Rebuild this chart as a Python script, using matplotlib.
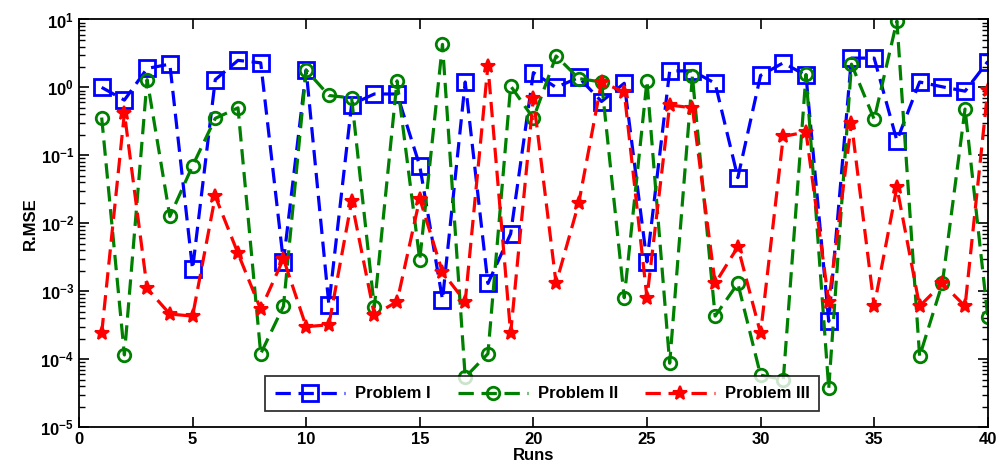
import numpy as np
import matplotlib
matplotlib.use("Agg")
import matplotlib.pyplot as plt
from matplotlib.ticker import LogLocator, NullFormatter, FixedLocator

runs = list(range(1, 41))
problem_1 = [1.0, 0.65, 1.9, 2.2, 0.0021, 1.3, 2.5, 2.3, 0.0027, 1.8,
             0.00063, 0.56, 0.8, 0.8, 0.07, 0.00075, 1.2, 0.0013, 0.007, 1.65,
             1.0, 1.4, 0.62, 1.15, 0.0027, 1.75, 1.75, 1.15, 0.047, 1.5,
             2.3, 1.5, 0.00036, 2.7, 2.7, 0.165, 1.2, 1.02, 0.88, 2.4]
problem_2 = [0.36, 0.000115, 1.3, 0.0126, 0.07, 0.35, 0.5, 0.00012, 0.0006, 1.8,
             0.76, 0.7, 0.00058, 1.25, 0.0029, 4.3, 0.000054, 0.00012, 1.05, 0.35,
             2.9, 1.35, 1.2, 0.0008, 1.25, 0.000087, 1.45, 0.00043, 0.0013, 0.000058,
             0.00005, 1.55, 0.000037, 2.2, 0.34, 9.5, 0.00011, 0.0013, 0.48, 0.00042]
problem_3 = [0.00024, 0.42, 0.0011, 0.00046, 0.00043, 0.025, 0.0036, 0.00054, 0.003, 0.0003,
             0.00032, 0.021, 0.00045, 0.0007, 0.023, 0.0019, 0.0007, 2.1, 0.00024, 0.7,
             0.0013, 0.02, 1.2, 0.85, 0.0008, 0.55, 0.5, 0.0013, 0.0045, 0.00024,
             0.19, 0.22, 0.0007, 0.3, 0.0006, 0.034, 0.0006, 0.0013, 0.0006, 0.92]
labels = ["Problem I", "Problem II", "Problem III"]
x_ticks = [0, 5, 10, 15, 20, 25, 30, 35, 40]

plt.rcParams['font.family'] = ['Liberation Sans', 'DejaVu Sans']
plt.rcParams['font.weight'] = 'bold'

fig = plt.figure(figsize=(10.02, 4.75), dpi=100)
ax = fig.add_axes([0.0788, 0.101, 0.907, 0.858])

dash = (0, (4.8, 2.4))
ax.plot(runs, problem_1, linestyle=dash, color=(0, 0, 1), linewidth=2.3,
        marker='s', markersize=11, markerfacecolor='none', markeredgewidth=2,
        label=labels[0])
ax.plot(runs, problem_2, linestyle=dash, color=(0, 0.5, 0), linewidth=2.3,
        marker='o', markersize=9, markerfacecolor='none', markeredgewidth=2,
        label=labels[1])
ax.plot(runs, problem_3, linestyle=dash, color=(1, 0, 0), linewidth=2.3,
        marker='*', markersize=10, markerfacecolor=(1, 0, 0), markeredgewidth=1.5,
        label=labels[2])

ax.set_yscale('log')
ax.set_ylim(1e-5, 1e1)
ax.set_xlim(0, 40)
ax.xaxis.set_major_locator(FixedLocator(x_ticks))
ax.yaxis.set_major_locator(LogLocator(base=10, numticks=10))
ax.yaxis.set_minor_locator(LogLocator(base=10, subs=np.arange(2, 10), numticks=20))
ax.yaxis.set_minor_formatter(NullFormatter())

ax.tick_params(axis='both', which='both', direction='in', top=True, right=True)
ax.tick_params(axis='both', which='major', length=7, width=1.2, labelsize=12)
ax.tick_params(axis='y', which='minor', length=4, width=1)
for lab in ax.get_xticklabels() + ax.get_yticklabels():
    lab.set_fontweight('bold')
for sp in ax.spines.values():
    sp.set_linewidth(1.3)

ax.set_xlabel("Runs", fontsize=12, fontweight='bold', labelpad=1)
ax.set_ylabel("R.MSE", fontsize=12, fontweight='bold', labelpad=2)

leg = ax.legend(loc='lower center', bbox_to_anchor=(0.51, 0.018), ncol=3,
                frameon=True, fancybox=False, edgecolor='black',
                prop={'weight': 'bold', 'size': 12}, handlelength=4.2,
                columnspacing=1.6, borderpad=0.6, handletextpad=0.6)
leg.get_frame().set_linewidth(1.3)

fig.savefig("out.png", dpi=100)
